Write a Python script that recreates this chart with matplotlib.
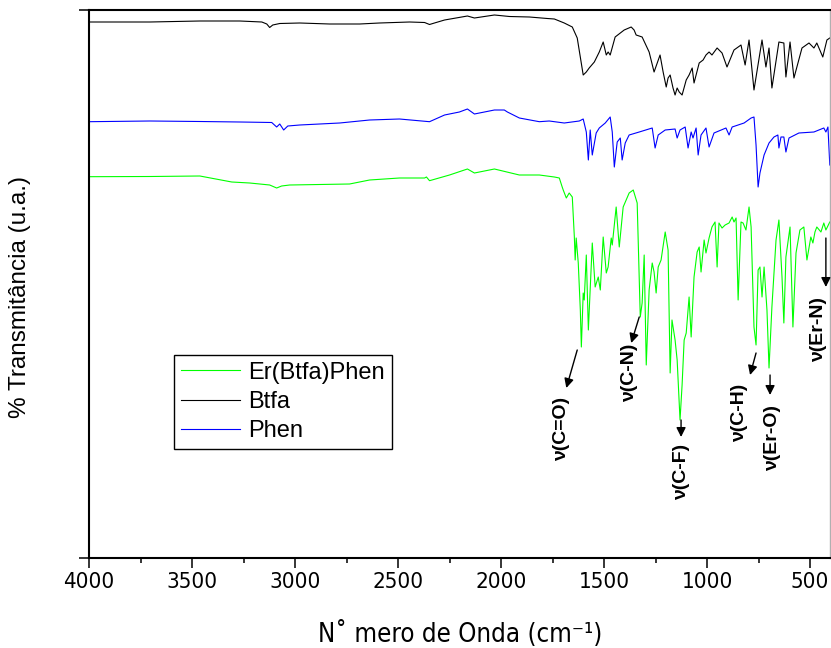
"""
FTIR spectra: Er(Btfa)Phen complex vs. the free ligands Btfa and Phen.
"""

import matplotlib
matplotlib.use("Agg")
import matplotlib.pyplot as plt
import matplotlib.font_manager as fm

# ---------------------------------------------------------------
# data (wavenumber in cm-1, transmittance in a.u.)
btfa_wn = [4000, 3704, 3462, 3268, 3161, 3137, 3123, 3108, 3074, 2977, 2832, 2686,
           2590, 2444, 2371, 2347, 2323, 2274, 2163, 2129, 2032, 1959, 1862, 1775,
           1741, 1693, 1654, 1630, 1601, 1586, 1572, 1547, 1523, 1504, 1489, 1480,
           1470, 1446, 1402, 1368, 1354, 1344, 1315, 1281, 1257, 1228, 1213, 1198,
           1189, 1179, 1165, 1155, 1145, 1135, 1121, 1101, 1087, 1072, 1063, 1038,
           1019, 1005, 990, 976, 951, 927, 903, 869, 835, 815, 796, 772, 733, 714,
           699, 685, 651, 627, 617, 597, 578, 539, 505, 481, 467, 438, 418, 404]
btfa_t = [536, 536, 537, 537, 536, 534, 530.5, 533, 534.5, 535, 534, 534,
          535, 536, 535.5, 533.5, 535, 538, 542, 540, 543, 541.5, 541, 539.5,
          539, 535, 531, 520, 483, 486, 490, 496, 506, 516, 503, 506,
          503, 521, 528, 531, 528, 523, 521, 506, 486, 503, 486, 471,
          480, 483, 470, 463, 470, 466, 463, 478, 483, 490, 475, 495,
          498, 503, 506, 503, 510, 505, 491, 508, 513, 493, 518, 468, 518, 491,
          510, 470, 516, 515, 481, 516, 480, 510, 515, 510, 515, 501, 518, 520]

phen_wn = [4000, 3704, 3462, 3268, 3113, 3089, 3074, 3055, 3035, 2977, 2783, 2638,
           2493, 2347, 2274, 2202, 2163, 2129, 2032, 1984, 1969, 1911, 1814, 1766,
           1693, 1620, 1601, 1586, 1576, 1567, 1557, 1538, 1523, 1494, 1470, 1460,
           1450, 1436, 1421, 1412, 1397, 1378, 1329, 1266, 1252, 1237, 1203, 1155,
           1145, 1131, 1106, 1092, 1077, 1068, 1053, 1043, 1029, 1005, 990, 966,
           908, 893, 878, 820, 786, 772, 762, 752, 743, 723, 699, 675, 656, 651,
           641, 627, 617, 602, 554, 481, 433, 423, 413, 404]
phen_t = [436.3, 437, 436.5, 436, 435.5, 431, 434, 428, 432, 433, 435, 438,
          439, 436.3, 443, 446, 449, 444, 448, 448, 446, 440, 436.3, 437,
          435, 437, 439, 426, 398, 428, 403, 425, 430, 435, 441, 426,
          391, 416, 420, 398, 415, 423, 426, 430, 410, 423, 428, 429,
          420, 428, 431, 410, 426, 420, 430, 403, 423, 430, 411, 425,
          430, 423, 431, 435, 440, 441, 413, 371, 385, 403, 415, 421, 423, 410,
          421, 421, 406, 420, 425, 426, 430, 426, 431, 393]

er_wn = [4000, 3704, 3462, 3307, 3220, 3123, 3089, 3065, 3026, 2735, 2638, 2493,
         2371, 2362, 2347, 2250, 2163, 2129, 2032, 1911, 1814, 1741, 1717, 1703,
         1698, 1683, 1669, 1654, 1644, 1640, 1635, 1625, 1615, 1610, 1601, 1596,
         1586, 1576, 1557, 1543, 1528, 1518, 1504, 1489, 1480, 1465, 1460, 1441,
         1426, 1407, 1378, 1358, 1339, 1324, 1315, 1305, 1295, 1281, 1266, 1257,
         1247, 1237, 1223, 1203, 1189, 1179, 1170, 1155, 1145, 1131, 1121, 1111,
         1101, 1087, 1077, 1063, 1048, 1038, 1029, 1014, 1005, 990, 976, 961,
         951, 942, 927, 912, 893, 878, 869, 859, 849, 835, 825, 811, 796, 786,
         772, 762, 752, 743, 733, 723, 709, 699, 685, 665, 651, 636, 627, 617,
         597, 583, 568, 549, 530, 515, 496, 486, 476, 467, 447, 433, 423, 404]
er_t = [381.3, 381.5, 382, 376, 375, 373, 370, 372, 373, 374, 378, 380,
        380, 381, 377.3, 383, 389, 385, 389, 383, 383, 381, 380, 371,
        368, 360, 365, 361, 321, 298, 320, 295, 248, 211, 265, 258,
        303, 228, 315, 271, 281, 268, 321, 285, 291, 320, 313, 351,
        311, 351, 365, 368, 355, 241, 255, 303, 193, 268, 295, 286,
        265, 291, 298, 326, 308, 185, 238, 218, 198, 138, 173, 218,
        225, 261, 221, 281, 306, 311, 286, 318, 305, 320, 331, 336,
        291, 335, 330, 333, 335, 341, 336, 340, 258, 336, 335, 328, 351, 331,
        231, 213, 288, 291, 261, 291, 248, 190, 251, 318, 338, 281, 235, 301,
        331, 231, 305, 328, 331, 298, 321, 315, 326, 331, 326, 335, 328, 336]

# band assignments: label, arrow tail (wn, t), arrow head (wn, t), text centre (wn, t)
bands = [
    ("ν(C=O)", (1630, 208), (1683, 170), (1707, 129)),
    ("ν(C-N)", (1329, 241), (1368, 215), (1378, 185)),
    ("ν(C-F)", (1126, 138), (1126, 121), (1126, 86)),
    ("ν(C-H)", (762, 205), (791, 183), (840, 145)),
    ("ν(Er-O)", (694, 183), (694, 163), (680, 120)),
    ("ν(Er-N)", (423, 320), (423, 271), (457, 228)),
]

# ---------------------------------------------------------------
names = {f.name for f in fm.fontManager.ttflist}
narrow = {"family": "Liberation Sans Narrow"} if "Liberation Sans Narrow" in names \
    else {"family": "DejaVu Sans", "stretch": "condensed"}

plt.rcParams["font.family"] = ["Liberation Sans", "DejaVu Sans"]

fig = plt.figure(figsize=(8.31, 6.48), dpi=100)
ax = fig.add_axes([89 / 831, 90 / 648, 741 / 831, 548 / 648])

ax.plot(er_wn, er_t, color="#00ff00", lw=0.8, label="Er(Btfa)Phen")
ax.plot(btfa_wn, btfa_t, color="black", lw=0.8, label="Btfa")
ax.plot(phen_wn, phen_t, color="#0000ff", lw=0.8, label="Phen")

for label, tail, head, txt in bands:
    ax.annotate("", xy=head, xytext=tail,
                arrowprops=dict(arrowstyle="-|>", color="black", lw=1.0,
                                mutation_scale=14, shrinkA=0, shrinkB=0))
    ax.text(txt[0], txt[1], label, rotation=90, ha="center", va="center",
            fontsize=14, fontweight="bold")

ax.set_xlim(4000, 403)
ax.set_ylim(0, 548)

ax.set_xticks([4000, 3500, 3000, 2500, 2000, 1500, 1000, 500])
ax.set_xticks([3750, 3250, 2750, 2250, 1750, 1250, 750], minor=True)
ax.set_yticks([0, 548])
ax.set_yticklabels([])
ax.tick_params(axis="x", which="major", direction="out", length=7.2, width=1.1,
               labelsize=16, pad=3)
ax.tick_params(axis="x", which="minor", direction="out", length=3.6, width=1.1)
ax.tick_params(axis="y", which="major", direction="out", length=7.2, width=1.1)
for lab in ax.get_xticklabels():
    lab.set_fontfamily(narrow["family"])
    if "stretch" in narrow:
        lab.set_fontstretch(narrow["stretch"])

for side in ("left", "bottom", "top"):
    ax.spines[side].set_linewidth(1.5)
ax.spines["right"].set_color("#b0b0b0")
ax.spines["right"].set_linewidth(1.0)

fig.text(20 / 831, 0.542, "% Transmitância (u.a.)", rotation=90,
         ha="center", va="center", fontsize=17.5)
fig.text(460 / 831, 14 / 648, "N˚ mero de Onda (cm⁻¹)", ha="center",
         va="center", fontsize=18.5, **narrow)

leg = ax.legend(loc="lower left", bbox_to_anchor=(0.1146, 0.199), borderaxespad=0,
                fontsize=17, fancybox=False, framealpha=1, edgecolor="black",
                handlelength=2.5, handletextpad=0.35, borderpad=0.3,
                labelspacing=0.3)
leg.get_frame().set_linewidth(1.0)

fig.savefig("out.png", dpi=100)
